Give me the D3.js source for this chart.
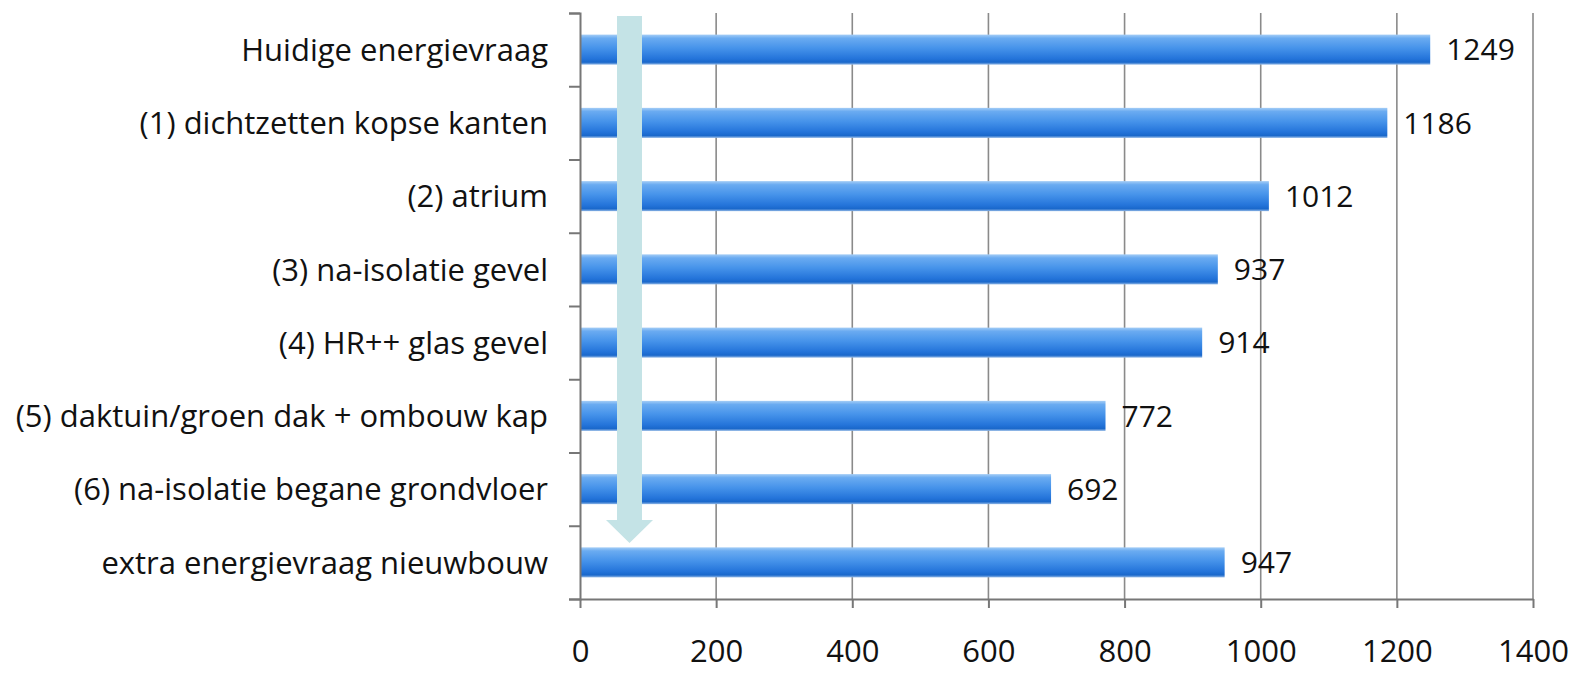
<!DOCTYPE html>
<html>
<head>
<meta charset="utf-8">
<script src="https://cdn.jsdelivr.net/npm/d3@7/dist/d3.min.js"></script>
<style>
  body { margin: 0; background: #fff; }
  svg { display: block; font-family: "Open Sans", "Noto Sans", sans-serif; }
</style>
</head>
<body>
<div id="chart"></div>
<script>
const categories = [
  "Huidige energievraag",
  "(1) dichtzetten kopse kanten",
  "(2) atrium",
  "(3) na-isolatie gevel",
  "(4) HR++ glas gevel",
  "(5) daktuin/groen dak + ombouw kap",
  "(6) na-isolatie begane grondvloer",
  "extra energievraag nieuwbouw"
];
const values = [1249, 1186, 1012, 937, 914, 772, 692, 947];
const xTicks = [0, 200, 400, 600, 800, 1000, 1200, 1400];

const W = 1577, H = 673;
const plot = { left: 580, right: 1533, top: 13, bottom: 599 };

const svg = d3.select("#chart").append("svg")
  .attr("width", W).attr("height", H);

const defs = svg.append("defs");
const grad = defs.append("linearGradient")
  .attr("id", "barGrad").attr("x1", 0).attr("y1", 0).attr("x2", 0).attr("y2", 1);
[["0%", "#a4cdf6"], ["12%", "#6aabf1"], ["45%", "#4693ea"], ["80%", "#2474da"], ["92%", "#1a68cb"], ["100%", "#90b7e6"]]
  .forEach(([o, c]) => grad.append("stop").attr("offset", o).attr("stop-color", c));

const x = d3.scaleLinear().domain([0, 1400]).range([plot.left, plot.right]);
const y = d3.scaleBand().domain(categories).range([plot.top, plot.bottom])
  .paddingInner(0.59).paddingOuter(0.295);
const yEdge = d3.scaleLinear().domain([0, categories.length]).range([plot.top, plot.bottom]);

// gridlines
svg.append("g")
  .selectAll("line")
  .data(xTicks.slice(1))
  .join("line")
  .attr("x1", d => x(d)).attr("x2", d => x(d))
  .attr("y1", plot.top).attr("y2", plot.bottom)
  .attr("stroke", "#8a8a8a").attr("stroke-width", 1.6);

// bars
svg.append("g")
  .selectAll("rect")
  .data(values)
  .join("rect")
  .attr("x", x(0))
  .attr("y", (d, i) => y(categories[i]))
  .attr("width", d => x(d) - x(0))
  .attr("height", y.bandwidth())
  .attr("fill", "url(#barGrad)");

// value labels
svg.append("g")
  .selectAll("text")
  .data(values)
  .join("text")
  .attr("x", d => x(d) + 16)
  .attr("y", (d, i) => y(categories[i]) + y.bandwidth() / 2)
  .attr("dy", "0.36em")
  .attr("font-size", 30)
  .attr("fill", "#111")
  .text(d => d);

// category labels
svg.append("g")
  .selectAll("text")
  .data(categories)
  .join("text")
  .attr("x", plot.left - 32)
  .attr("y", d => y(d) + y.bandwidth() / 2)
  .attr("dy", "0.36em")
  .attr("text-anchor", "end")
  .attr("font-size", 31)
  .attr("fill", "#111")
  .text(d => d);

// y axis with ticks at band edges
const yAxis = svg.append("g")
  .attr("transform", `translate(${plot.left},0)`)
  .call(d3.axisLeft(yEdge).tickValues(d3.range(categories.length + 1)).tickSize(11).tickFormat(""));
yAxis.select(".domain").attr("stroke", "#777").attr("stroke-width", 2);
yAxis.selectAll(".tick line").attr("stroke", "#777").attr("stroke-width", 2);

// x axis
const xAxis = svg.append("g")
  .attr("transform", `translate(0,${plot.bottom})`)
  .call(d3.axisBottom(x).tickValues(xTicks).tickFormat(d3.format("d"))
    .tickSize(9).tickSizeOuter(0).tickPadding(32));
xAxis.select(".domain").attr("stroke", "#777").attr("stroke-width", 2);
xAxis.selectAll(".tick line").attr("stroke", "#777").attr("stroke-width", 2);
xAxis.selectAll(".tick text")
  .attr("font-size", 31).attr("fill", "#111")
  .attr("font-family", "'Open Sans', 'Noto Sans', sans-serif");

// arrow annotation
const ax0 = 617, ax1 = 642, aTop = 16, aNeck = 520, aTip = 543, hw = 23.5;
const acx = (ax0 + ax1) / 2;
svg.append("path")
  .attr("d", `M${ax0},${aTop} L${ax1},${aTop} L${ax1},${aNeck} L${acx + hw},${aNeck} L${acx},${aTip} L${acx - hw},${aNeck} L${ax0},${aNeck} Z`)
  .attr("fill", "#c4e3e6");
</script>
</body>
</html>
